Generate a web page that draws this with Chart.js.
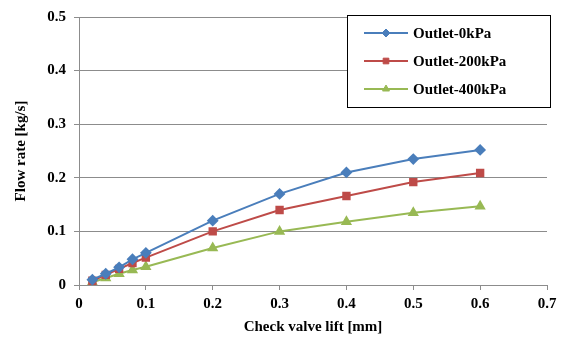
<!DOCTYPE html>
<html>
<head>
<meta charset="utf-8">
<script src="https://cdn.jsdelivr.net/npm/chart.js@4"></script>
<style>
  html, body { margin: 0; padding: 0; background: #fff; }
  #wrap { width: 562px; height: 343px; }
</style>
</head>
<body>
<div id="wrap"><canvas id="flow_chart"></canvas></div>
<script>
const lift = [0.02, 0.04, 0.06, 0.08, 0.1, 0.2, 0.3, 0.4, 0.5, 0.6];
const outlet0 = [0.010, 0.021, 0.033, 0.048, 0.060, 0.120, 0.170, 0.210, 0.235, 0.252];
const outlet200 = [0.008, 0.019, 0.030, 0.041, 0.051, 0.100, 0.140, 0.166, 0.192, 0.209];
const outlet400 = [0.005, 0.013, 0.021, 0.028, 0.034, 0.069, 0.100, 0.118, 0.135, 0.147];
const seriesNames = ['Outlet-0kPa', 'Outlet-200kPa', 'Outlet-400kPa'];

const serif = '"Liberation Serif", "Times New Roman", serif';
const gridGray = '#8c8c8c';

const pts = ys => lift.map((x, i) => ({ x: x, y: ys[i] }));

// legend box in the top-right corner, drawn over the plot
const boxLegend = {
  id: 'boxLegend',
  afterDraw(chart) {
    const ctx = chart.ctx;
    const x0 = 347, y0 = 15, w = 203, h = 92;
    ctx.save();
    ctx.fillStyle = '#fff';
    ctx.fillRect(x0, y0, w, h);
    ctx.strokeStyle = '#000';
    ctx.lineWidth = 1;
    ctx.strokeRect(x0 + 0.5, y0 + 0.5, w, h);
    ctx.font = 'bold 15px ' + serif;
    ctx.textBaseline = 'middle';
    chart.data.datasets.forEach((ds, i) => {
      const cy = y0 + 18 + i * 28;
      ctx.strokeStyle = ds.borderColor;
      ctx.lineWidth = 2;
      ctx.beginPath();
      ctx.moveTo(x0 + 17, cy);
      ctx.lineTo(x0 + 61, cy);
      ctx.stroke();
      ctx.fillStyle = ds.backgroundColor;
      ctx.strokeStyle = ds.backgroundColor;
      ctx.lineWidth = 1;
      Chart.helpers.drawPoint(ctx, {
        pointStyle: ds.pointStyle, radius: 4, borderWidth: 1
      }, x0 + 39, cy);
      ctx.fillStyle = '#000';
      ctx.fillText(ds.label, x0 + 66, cy + 1);
    });
    ctx.restore();
  }
};

new Chart(document.getElementById('flow_chart'), {
  type: 'line',
  data: {
    datasets: [
      {
        label: seriesNames[0],
        data: pts(outlet0),
        borderColor: '#4a7ebb',
        backgroundColor: '#4a7ebb',
        pointStyle: 'rectRot',
        pointRadius: 4.5,
        borderWidth: 2
      },
      {
        label: seriesNames[1],
        data: pts(outlet200),
        borderColor: '#be4b48',
        backgroundColor: '#be4b48',
        pointStyle: 'rect',
        pointRadius: 4.5,
        borderWidth: 2
      },
      {
        label: seriesNames[2],
        data: pts(outlet400),
        borderColor: '#98b954',
        backgroundColor: '#98b954',
        pointStyle: 'triangle',
        pointRadius: 4.5,
        borderWidth: 2
      }
    ]
  },
  options: {
    responsive: true,
    maintainAspectRatio: false,
    animation: false,
    layout: { padding: { left: 0, right: 15, top: 15, bottom: 0 } },
    plugins: {
      legend: { display: false },
      tooltip: { enabled: false }
    },
    scales: {
      x: {
        type: 'linear',
        min: 0,
        max: 0.7,
        ticks: {
          stepSize: 0.1,
          color: '#000',
          font: { family: serif, size: 15, weight: 'bold' },
          padding: 5,
          callback: v => String(+v.toFixed(1))
        },
        grid: { drawOnChartArea: false, drawTicks: true, tickLength: 5, color: gridGray },
        border: { color: gridGray },
        title: {
          display: true,
          text: 'Check valve lift [mm]',
          color: '#000',
          font: { family: serif, size: 15, weight: 'bold' },
          padding: { top: 2, bottom: 7 }
        },
        afterFit: s => { s.height = 58; }
      },
      y: {
        min: 0,
        max: 0.5,
        ticks: {
          stepSize: 0.1,
          color: '#000',
          font: { family: serif, size: 15, weight: 'bold' },
          padding: 8,
          callback: v => String(+v.toFixed(1))
        },
        grid: { color: gridGray, drawTicks: true, tickLength: 5 },
        border: { color: gridGray },
        title: {
          display: true,
          text: 'Flow rate [kg/s]',
          color: '#000',
          font: { family: serif, size: 15, weight: 'bold' },
          padding: { top: 12, bottom: 2 }
        },
        afterFit: s => { s.width = 79; }
      }
    }
  },
  plugins: [boxLegend]
});
</script>
</body>
</html>
